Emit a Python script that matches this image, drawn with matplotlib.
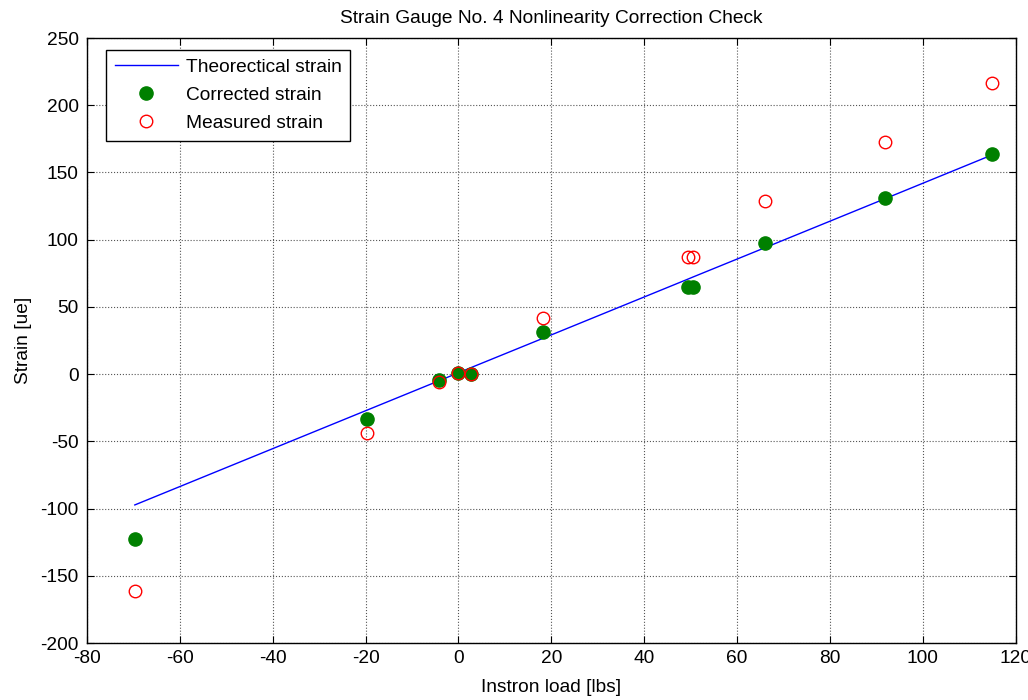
import matplotlib
matplotlib.use('Agg')
import matplotlib.pyplot as plt

plt.rcParams['font.family'] = ['Liberation Sans', 'DejaVu Sans']
plt.rcParams['axes.unicode_minus'] = False

# Instron load [lbs]
load = [-69.7, -19.7, -4.1, 0.0, 2.8, 18.3, 49.5, 50.4, 65.9, 91.8, 114.8]
theoretical = [-97.3, -26.8, -4.8, 1.0, 5.0, 26.8, 70.8, 72.1, 93.9, 130.4, 162.9]
corrected = [-122.8, -33.5, -4.5, 0.5, 0.0, 31.2, 64.7, 64.7, 97.5, 131.0, 163.7]
measured = [-161.5, -43.9, -6.0, 0.5, 0.0, 41.7, 87.0, 87.0, 128.7, 172.6, 216.5]

xticks = [-80, -60, -40, -20, 0, 20, 40, 60, 80, 100, 120]
yticks = [-200, -150, -100, -50, 0, 50, 100, 150, 200, 250]

fs = 13.8

fig = plt.figure(figsize=(10.28, 7.0), dpi=100)
ax = fig.add_axes([0.0846, 0.0814, 0.9035, 0.8643])

ax.plot(load, theoretical, color='blue', linewidth=1.0, label='Theorectical strain')
ax.plot(load, corrected, 'o', color='green', markersize=9.5, markeredgecolor='green',
        label='Corrected strain')
ax.plot(load, measured, 'o', markerfacecolor='none', markeredgecolor='red',
        markersize=9, markeredgewidth=1.0, label='Measured strain')

ax.set_xlim(-80, 120)
ax.set_ylim(-200, 250)
ax.set_xticks(xticks)
ax.set_yticks(yticks)
ax.tick_params(direction='in', top=True, right=True, labelsize=fs, length=5)
ax.tick_params(axis='y', pad=6)
ax.tick_params(axis='x', pad=5)
ax.grid(True, linestyle=':', color='#555555', linewidth=0.8)
for s in ax.spines.values():
    s.set_linewidth(1.0)

ax.set_title('Strain Gauge No. 4 Nonlinearity Correction Check', fontsize=fs, pad=11)
ax.set_xlabel('Instron load [lbs]', fontsize=fs, labelpad=9)
ax.set_ylabel('Strain [ue]', fontsize=fs, labelpad=6)

leg = ax.legend(loc='upper left', bbox_to_anchor=(0.0205, 0.980), borderaxespad=0,
                fontsize=fs, frameon=True, fancybox=False, edgecolor='black',
                borderpad=0.45, handlelength=3.3, handletextpad=0.4,
                labelspacing=0.55, framealpha=1)
leg.get_frame().set_linewidth(1.0)

fig.savefig('out.png', dpi=100)
